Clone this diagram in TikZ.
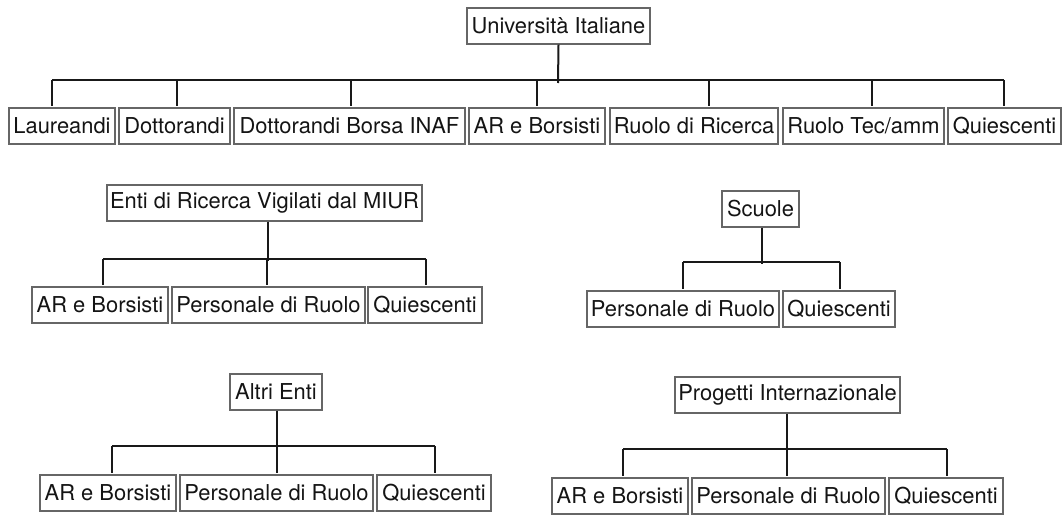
\documentclass[tikz,border=0pt]{standalone}
\usepackage{fontspec}
\setmainfont{TeX Gyre Heros}
\begin{document}
\begin{tikzpicture}[x=1pt,y=-1pt,
  box/.style={draw=black!60,line width=1.1pt,inner sep=0pt,minimum height=36pt,
    font=\fontsize{21.9}{25}\selectfont,text=black!92},
  conn/.style={draw=black!90,line width=2pt},
  drop/.style={conn,shorten >=1.5pt}]
\useasboundingbox (0,0) rectangle (1064,516);
% ---------- Universita Italiane ----------
\node[box,minimum width=183pt] (root) at (558.5,26) {Università Italiane};
\node[box,minimum width=106pt] (u1) at (62,126) {Laureandi};
\node[box,minimum width=111pt] (u2) at (174.5,126) {Dottorandi};
\node[box,minimum width=231pt] (u3) at (349.5,126) {Dottorandi Borsa INAF};
\node[box,minimum width=136pt] (u4) at (537,126) {AR e Borsisti};
\node[box,minimum width=168pt] (u5) at (694,126) {Ruolo di Ricerca};
\node[box,minimum width=161pt] (u6) at (863.5,126) {Ruolo Tec/amm};
\node[box,minimum width=113pt] (u7) at (1004.5,126) {Quiescenti};
\coordinate (ud1) at (52,80);
\coordinate (ud2) at (177,80);
\coordinate (ud3) at (351,80);
\coordinate (ud4) at (537,80);
\coordinate (ud5) at (709,80);
\coordinate (ud6) at (872,80);
\coordinate (ud7) at (1004,80);
\coordinate (ustem) at (558,83);
\draw[conn] (ud1) -- (ud7);
\draw[conn] (root.south) -- (ustem);
\foreach \i in {1,...,7}{\draw[drop] (ud\i) -- (ud\i |- u\i.north);}
% ---------- Enti di Ricerca ----------
\node[box,minimum width=315pt] (e) at (264.5,203) {Enti di Ricerca Vigilati dal MIUR};
\node[box,minimum width=136pt] (e1) at (100,305) {AR e Borsisti};
\node[box,minimum width=193pt] (e2) at (268.5,305) {Personale di Ruolo};
\node[box,minimum width=114pt] (e3) at (425,305) {Quiescenti};
\coordinate (ed1) at (103,259);
\coordinate (ed2) at (267,259);
\coordinate (ed3) at (426,259);
\coordinate (estem) at (268,261);
\draw[conn] (ed1) -- (ed3);
\draw[conn] (e.south -| estem) -- (estem);
\foreach \i in {1,2,3}{\draw[drop] (ed\i) -- (ed\i |- e\i.north);}
% ---------- Scuole ----------
\node[box,minimum width=77pt] (s) at (760.5,209) {Scuole};
\node[box,minimum width=192pt] (s1) at (683,309) {Personale di Ruolo};
\node[box,minimum width=112pt] (s2) at (839,309) {Quiescenti};
\coordinate (sd1) at (683,262);
\coordinate (sd2) at (840,262);
\coordinate (sstem) at (762,264);
\draw[conn] (sd1) -- (sd2);
\draw[conn] (s.south -| sstem) -- (sstem);
\foreach \i in {1,2}{\draw[drop] (sd\i) -- (sd\i |- s\i.north);}
% ---------- Altri Enti ----------
\node[box,minimum width=92pt] (a) at (276,392) {Altri Enti};
\node[box,minimum width=136pt] (a1) at (108,493) {AR e Borsisti};
\node[box,minimum width=193pt] (a2) at (276.5,493) {Personale di Ruolo};
\node[box,minimum width=114pt] (a3) at (434,493) {Quiescenti};
\coordinate (ad1) at (112,446);
\coordinate (ad2) at (277,446);
\coordinate (ad3) at (435,446);
\coordinate (astem) at (277,448);
\draw[conn] (ad1) -- (ad3);
\draw[conn] (a.south -| astem) -- (astem);
\foreach \i in {1,2,3}{\draw[drop] (ad\i) -- (ad\i |- a\i.north);}
% ---------- Progetti Internazionale ----------
\node[box,minimum width=225pt] (p) at (787.5,395) {Progetti Internazionale};
\node[box,minimum width=136pt] (p1) at (620,496) {AR e Borsisti};
\node[box,minimum width=193pt] (p2) at (788.5,496) {Personale di Ruolo};
\node[box,minimum width=114pt] (p3) at (946,496) {Quiescenti};
\coordinate (pd1) at (623,449);
\coordinate (pd2) at (787,449);
\coordinate (pd3) at (947,449);
\coordinate (pstem) at (787,451);
\draw[conn] (pd1) -- (pd3);
\draw[conn] (p.south -| pstem) -- (pstem);
\foreach \i in {1,2,3}{\draw[drop] (pd\i) -- (pd\i |- p\i.north);}
\end{tikzpicture}
\end{document}
